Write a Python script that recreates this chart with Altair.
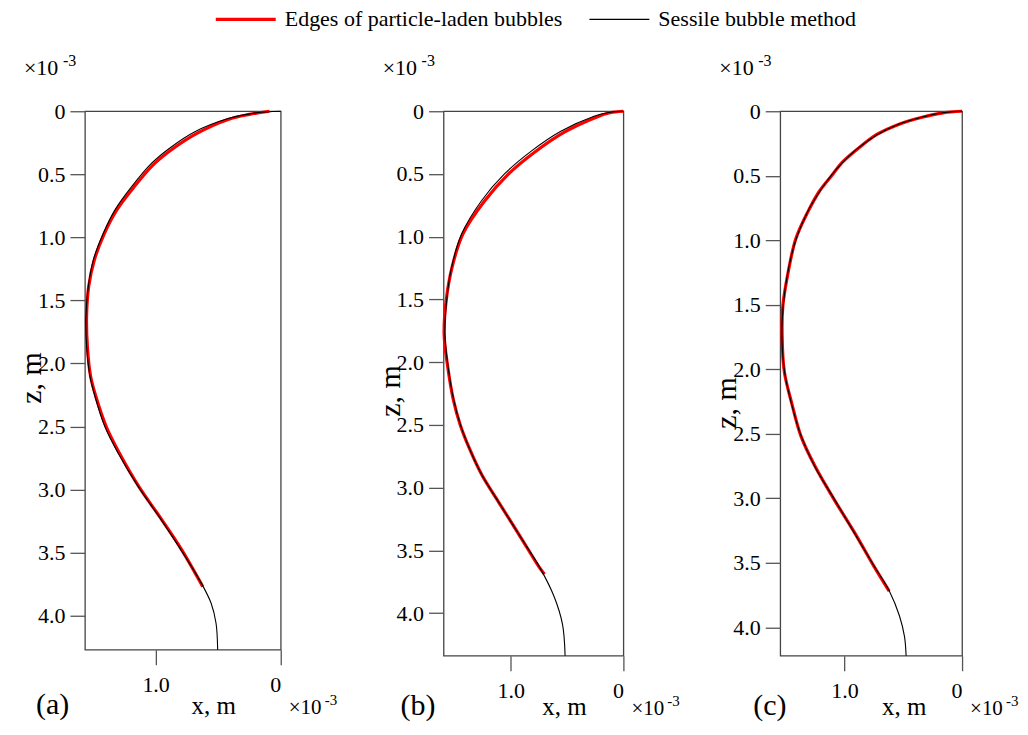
import altair as alt
import pandas as pd

SERIES = ["Edges of particle-laden bubbles", "Sessile bubble method"]
COLORS = ["#ff0000", "#000000"]
WIDTHS = [3.2, 1.1]
FONT = "Liberation Serif"

# ---- panel (a) ----
a_sess_x = [0.0, 0.20, 0.42, 0.69, 0.875, 1.034, 1.193, 1.326, 1.418, 1.498, 1.538, 1.557, 1.551, 1.525,
            1.485, 1.406, 1.30, 1.14, 0.955, 0.796, 0.636, 0.557, 0.517, 0.504]
a_sess_z = [0.0, 0.013, 0.058, 0.164, 0.283, 0.414, 0.60, 0.784, 0.968, 1.18, 1.39, 1.63, 1.87, 2.10,
            2.26, 2.50, 2.71, 2.975, 3.24, 3.48, 3.74, 3.90, 4.06, 4.27]
a_edge_x = [0.09, 0.25, 0.42, 0.67, 0.86, 1.02, 1.18, 1.315, 1.41, 1.49, 1.535, 1.552, 1.545, 1.52,
            1.478, 1.395, 1.29, 1.135, 0.95, 0.79, 0.623]
a_edge_z = [0.0, 0.025, 0.065, 0.175, 0.295, 0.425, 0.61, 0.79, 0.97, 1.18, 1.39, 1.63, 1.87, 2.10,
            2.26, 2.50, 2.71, 2.975, 3.24, 3.48, 3.77]

# ---- panel (b) ----
b_sess_x = [0.0, 0.13, 0.26, 0.555, 0.82, 1.055, 1.26, 1.436, 1.524, 1.568, 1.583, 1.553, 1.505, 1.445,
            1.36, 1.255, 1.10, 0.915, 0.746, 0.614, 0.54, 0.517]
b_sess_z = [0.0, 0.01, 0.04, 0.16, 0.32, 0.50, 0.715, 0.98, 1.245, 1.51, 1.78, 2.05, 2.30, 2.50,
            2.70, 2.90, 3.125, 3.39, 3.63, 3.87, 4.09, 4.34]
b_edge_x = [0.0, 0.12, 0.235, 0.52, 0.785, 1.025, 1.235, 1.425, 1.52, 1.572, 1.59, 1.556, 1.508, 1.447,
            1.36, 1.255, 1.10, 0.915, 0.75, 0.70]
b_edge_z = [0.0, 0.012, 0.045, 0.165, 0.325, 0.505, 0.72, 0.98, 1.245, 1.51, 1.78, 2.05, 2.30, 2.50,
            2.70, 2.90, 3.125, 3.39, 3.63, 3.69]

# ---- panel (c) ----
c_sess_x = [0.0, 0.15, 0.336, 0.54, 0.72, 0.89, 1.02, 1.115, 1.21, 1.315, 1.412, 1.483, 1.522, 1.533, 1.51,
            1.453, 1.368, 1.255, 1.085, 0.915, 0.745, 0.618, 0.533, 0.49, 0.476]
c_sess_z = [0.0, 0.01, 0.044, 0.10, 0.18, 0.29, 0.40, 0.50, 0.62, 0.78, 0.99, 1.25, 1.51, 1.74, 2.02,
            2.26, 2.52, 2.75, 3.01, 3.27, 3.53, 3.72, 3.91, 4.07, 4.22]
c_edge_x = [0.0, 0.16, 0.34, 0.535, 0.725, 0.886, 1.024, 1.11, 1.214, 1.312, 1.415, 1.48, 1.525, 1.531,
            1.512, 1.45, 1.37, 1.252, 1.088, 0.912, 0.748, 0.62]
c_edge_z = [0.0, 0.012, 0.046, 0.10, 0.18, 0.29, 0.40, 0.50, 0.62, 0.78, 0.99, 1.25, 1.51, 1.74, 2.02,
            2.26, 2.52, 2.75, 3.01, 3.27, 3.53, 3.72]

x_tick_values = [0.0, 1.0]
z_tick_values = [0.0, 0.5, 1.0, 1.5, 2.0, 2.5, 3.0, 3.5, 4.0]
panel_labels = ["(a)", "(b)", "(c)"]
axis_title_x = "x, m"
axis_title_z = "z, m"
exp_base = "\u00d710"
exp_power = "-3"

LABEL_EXPR = "datum.value == 0 ? '0' : format(datum.value, '.1f')"


def curve_df(xs, zs, series):
    return pd.DataFrame({"x": xs, "z": zs, "i": list(range(len(xs))), "series": series})


def legend():
    return alt.Legend(orient="none", legendX=150, legendY=-103, direction="horizontal",
                      symbolType="M-4,0L4,0", symbolSize=225, labelFont=FONT, labelFontSize=22,
                      labelColor="black", labelOffset=28, columnPadding=24, labelLimit=400)


def text_layer(txt, x, y, size, align="left", baseline="alphabetic", angle=0):
    props = dict(font=FONT, fontSize=size, align=align, baseline=baseline, color="black")
    if angle:
        props["angle"] = angle
    return alt.Chart(pd.DataFrame({"k": [0]})).mark_text(**props).encode(
        x=alt.value(x), y=alt.value(y), text=alt.value(txt))


def panel(sx, sz, ex, ez, xmax, zmax, w, h, label, label_x, xtitle_x, ztitle_y, bottom_base):
    xscale = alt.Scale(domain=[0, xmax], reverse=True, nice=False, zero=False)
    zscale = alt.Scale(domain=[0, zmax], reverse=True, nice=False, zero=False)
    xaxis = alt.Axis(values=x_tick_values, labelExpr=LABEL_EXPR, title=None, tickSize=15,
                     labelPadding=10, grid=False, domain=False)
    zaxis = alt.Axis(values=z_tick_values, labelExpr=LABEL_EXPR, title=None, tickSize=15,
                     labelPadding=5, grid=False, domain=False)
    color = alt.Color("series:N", scale=alt.Scale(domain=SERIES, range=COLORS), legend=legend(), title=None)
    sw = alt.StrokeWidth("series:N", scale=alt.Scale(domain=SERIES, range=WIDTHS), legend=legend(), title=None)

    def line(df):
        return alt.Chart(df).mark_line(interpolate="catmull-rom").encode(
            x=alt.X("x:Q", scale=xscale, axis=xaxis),
            y=alt.Y("z:Q", scale=zscale, axis=zaxis),
            order=alt.Order("i:Q"),
            color=color,
            strokeWidth=sw,
        )

    layers = [
        line(curve_df(ex, ez, SERIES[0])),
        line(curve_df(sx, sz, SERIES[1])),
        text_layer(exp_base, -61, -36, 22),
        text_layer(exp_power, -22, -45, 16),
        text_layer(exp_base, w + 8, bottom_base, 21),
        text_layer(exp_power, w + 44, bottom_base - 9, 15),
        text_layer(axis_title_x, xtitle_x, bottom_base, 25, align="center"),
        text_layer(label, label_x, bottom_base, 30),
        text_layer(axis_title_z, -53, ztitle_y, 30, align="center", baseline="middle", angle=270),
    ]
    return alt.layer(*layers).properties(width=w, height=h)


# plot tops sit at page y ~111; bottom text row kept inside the 735 px page
pa = panel(a_sess_x, a_sess_z, a_edge_x, a_edge_z, 1.565, 4.27, 196, 539, panel_labels[0], -49, 129, 267, 603)
pb = panel(b_sess_x, b_sess_z, b_edge_x, b_edge_z, 1.595, 4.34, 180, 545, panel_labels[1], -43, 121, 280, 604)
pc = panel(c_sess_x, c_sess_z, c_edge_x, c_edge_z, 1.547, 4.22, 182, 545, panel_labels[2], -27, 124, 292, 604)

right = alt.hconcat(pb, pc, spacing=157, bounds="flush")
chart = alt.hconcat(pa, right, spacing=163, bounds="flush").properties(
    padding={"left": 8, "top": 0, "right": 0, "bottom": 0}
).configure_view(
    stroke="#444444", strokeWidth=1.3
).configure_axis(
    labelFont=FONT, labelFontSize=22, labelColor="black", tickColor="#555555", tickWidth=1.3
)

chart.save("out.html", embed_options={"renderer": "svg", "actions": False})
